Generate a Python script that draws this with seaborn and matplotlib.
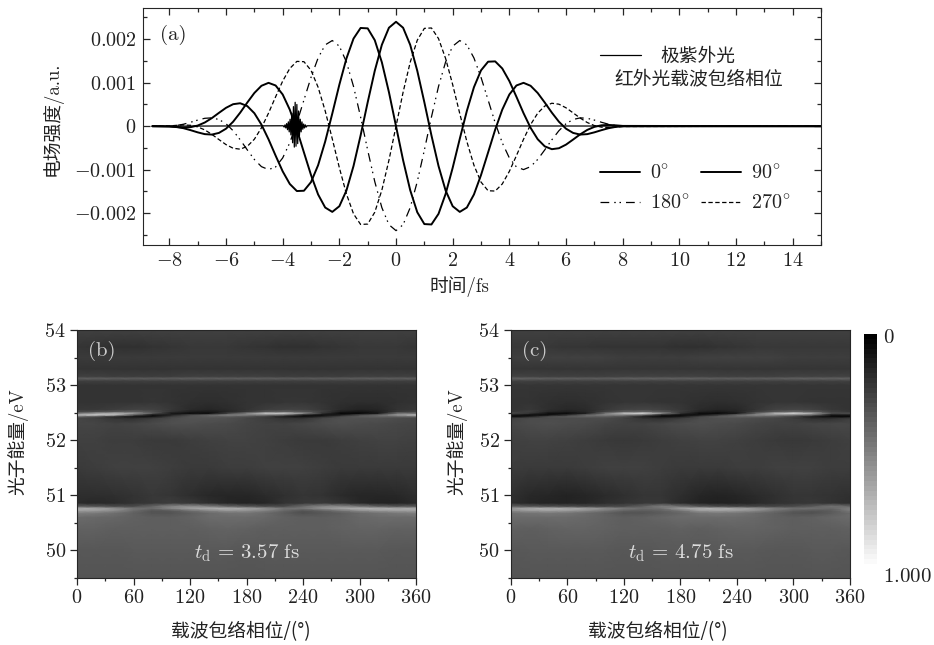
import numpy as np
import matplotlib
matplotlib.use('Agg')
import matplotlib.pyplot as plt
from matplotlib.lines import Line2D
from matplotlib.ticker import MultipleLocator
import seaborn as sns
import warnings

warnings.filterwarnings('ignore')

# panel (a) waveforms, values in 1e-3 a.u.
time_fs = [-8.6] + list(np.arange(-8, 8.25, 0.25)) + [15]

ir_0 = [0, -.003, -.016, -.046, -.091, -.141, -.182, -.192, -.154, -.057, .103, .312, .544, .764, .929, .997, .936, .729, .381, -.079,
        -.603, -1.123, -1.569, -1.869, -1.969, -1.839, -1.477, -.914, -.211, .550, 1.274, 1.871, 2.263, 2.40,
        2.263, 1.871, 1.274, .550, -.211, -.914, -1.477, -1.839, -1.969, -1.869, -1.569, -1.123, -.603,
        -.079, .381, .729, .936, .997, .929, .764, .544, .312, .103, -.057, -.154, -.192, -.182, -.141, -.091, -.046, -.016, -.003, 0]
ir_90 = [0, -.007, -.020, -.029, -.021, .015, .085, .187, .307, .423, .506, .528, .463, .299, .037, -.301, -.676, -1.038, -1.327, -1.490,
         -1.483, -1.284, -.896, -.352, .290, .955, 1.557, 2.014, 2.258, 2.249, 1.977, 1.469, .782, 0,
         -.782, -1.469, -1.977, -2.249, -2.258, -2.014, -1.557, -.955, -.290, .352, .896, 1.284, 1.483,
         1.490, 1.327, 1.038, .676, .301, -.037, -.299, -.463, -.528, -.506, -.423, -.307, -.187, -.085, -.015, .021, .029, .020, .007, 0]
ir_180 = [0, .003, .016, .046, .091, .141, .182, .192, .154, .057, -.103, -.312, -.544, -.764, -.929, -.997, -.936, -.729, -.381, .079,
          .603, 1.123, 1.569, 1.869, 1.969, 1.839, 1.477, .914, .211, -.550, -1.274, -1.871, -2.263, -2.40,
          -2.263, -1.871, -1.274, -.550, .211, .914, 1.477, 1.839, 1.969, 1.869, 1.569, 1.123, .603,
          .079, -.381, -.729, -.936, -.997, -.929, -.764, -.544, -.312, -.103, .057, .154, .192, .182, .141, .091, .046, .016, .003, 0]
ir_270 = [0, .007, .020, .029, .021, -.015, -.085, -.187, -.307, -.423, -.506, -.528, -.463, -.299, -.037, .301, .676, 1.038, 1.327, 1.490,
          1.483, 1.284, .896, .352, -.290, -.955, -1.557, -2.014, -2.258, -2.249, -1.977, -1.469, -.782, 0,
          .782, 1.469, 1.977, 2.249, 2.258, 2.014, 1.557, .955, .290, -.352, -.896, -1.284, -1.483,
          -1.490, -1.327, -1.038, -.676, -.301, .037, .299, .463, .528, .506, .423, .307, .187, .085, .015, -.021, -.029, -.020, -.007, 0]

xuv_time = [-8.6] + list(np.arange(-3.98, -3.13, 0.03)) + [15]
xuv_field = [0, .01, -.02, .03, -.04, .06, -.08, .10, -.13, .16, -.20, .30, -.38, .45, -.48, .55, -.46, .50, -.40, .35, -.22,
             .16, -.13, .10, -.07, .05, -.04, .03, -.02, .01, 0]

time_ticks = [-8, -6, -4, -2, 0, 2, 4, 6, 8, 10, 12, 14]
time_labels = ['$-8$', '$-6$', '$-4$', '$-2$', '$0$', '$2$', '$4$', '$6$', '$8$', '$10$', '$12$', '$14$']
field_ticks = [-0.002, -0.001, 0, 0.001, 0.002]
field_labels = ['$-0.002$', '$-0.001$', '$0$', '$0.001$', '$0.002$']

# panels (b) and (c): brightness on the 0..1 gray scale
phase_deg = [0, 20, 40, 60, 80, 100, 120, 140, 160, 180, 200, 220, 240, 260, 280, 300, 320, 340, 360]
energy_ev = [49.5, 50.0, 50.4, 50.6, 50.68, 50.72, 50.76, 50.80, 50.86, 51.0, 51.5, 52.0, 52.3, 52.40,
             52.43, 52.46, 52.49, 52.52, 52.56, 52.7, 53.0, 53.08, 53.12, 53.16, 53.3, 53.5, 53.7, 54.0]

spectrum_b = [
    [.33, .33, .33, .33, .33, .33, .33, .33, .33, .33, .33, .33, .33, .33, .33, .33, .33, .33, .33],
    [.34, .34, .34, .35, .35, .35, .35, .35, .35, .34, .35, .35, .35, .35, .35, .35, .35, .34, .34],
    [.38, .38, .37, .37, .37, .37, .37, .38, .39, .38, .37, .37, .37, .37, .38, .39, .39, .38, .38],
    [.42, .41, .40, .38, .37, .37, .39, .42, .42, .42, .41, .38, .37, .37, .38, .41, .42, .42, .42],
    [.50, .48, .44, .38, .33, .33, .37, .42, .45, .46, .42, .36, .31, .34, .37, .42, .45, .48, .50],
    [.62, .60, .54, .42, .33, .35, .44, .52, .58, .56, .50, .40, .33, .38, .46, .55, .60, .62, .62],
    [.68, .66, .58, .46, .42, .52, .62, .68, .70, .66, .58, .46, .46, .56, .64, .70, .70, .68, .68],
    [.36, .34, .30, .30, .40, .52, .56, .50, .40, .34, .30, .30, .42, .52, .54, .46, .38, .34, .36],
    [.17, .16, .17, .20, .22, .24, .22, .18, .15, .14, .15, .20, .22, .23, .20, .16, .14, .14, .17],
    [.18, .18, .19, .20, .22, .21, .18, .16, .15, .15, .17, .19, .21, .20, .17, .15, .15, .16, .18],
    [.23, .24, .25, .25, .25, .24, .23, .23, .24, .24, .25, .25, .25, .24, .23, .23, .23, .23, .23],
    [.25, .25, .24, .24, .23, .23, .24, .25, .26, .26, .25, .24, .23, .23, .24, .25, .26, .26, .25],
    [.27, .27, .26, .27, .29, .31, .31, .30, .29, .27, .26, .26, .28, .30, .31, .30, .29, .28, .27],
    [.28, .25, .20, .18, .24, .30, .33, .33, .32, .28, .24, .20, .20, .28, .32, .32, .32, .30, .28],
    [.40, .30, .15, .06, .08, .25, .33, .36, .36, .32, .24, .10, .06, .15, .30, .36, .38, .38, .40],
    [.75, .80, .72, .35, .06, .14, .30, .40, .52, .50, .48, .40, .10, .05, .12, .30, .42, .60, .75],
    [.45, .62, .70, .60, .35, .10, .05, .05, .25, .50, .78, .78, .55, .20, .03, .03, .10, .45, .45],
    [.28, .30, .34, .38, .32, .20, .12, .10, .15, .22, .34, .38, .34, .26, .12, .08, .12, .22, .28],
    [.22, .22, .24, .26, .26, .22, .17, .15, .17, .20, .24, .26, .26, .22, .17, .14, .15, .20, .22],
    [.20, .20, .20, .20, .21, .20, .19, .18, .19, .20, .20, .21, .21, .20, .19, .18, .18, .19, .20],
    [.20, .20, .20, .20, .20, .20, .20, .20, .20, .20, .20, .20, .20, .20, .20, .20, .20, .20, .20],
    [.25, .25, .25, .25, .25, .25, .25, .25, .25, .25, .25, .25, .25, .25, .25, .25, .25, .25, .25],
    [.37, .37, .36, .36, .36, .36, .37, .37, .37, .37, .37, .36, .36, .36, .36, .37, .37, .37, .37],
    [.25, .25, .24, .24, .24, .24, .25, .25, .25, .25, .25, .24, .24, .24, .24, .25, .25, .25, .25],
    [.20, .20, .20, .20, .20, .20, .20, .20, .20, .20, .20, .20, .20, .20, .20, .20, .20, .20, .20],
    [.23, .23, .23, .23, .23, .23, .23, .23, .23, .23, .23, .23, .23, .23, .23, .23, .23, .23, .23],
    [.21, .20, .19, .19, .20, .21, .22, .22, .22, .21, .20, .19, .19, .20, .21, .22, .22, .22, .21],
    [.25, .25, .25, .25, .25, .25, .25, .25, .25, .25, .25, .25, .25, .25, .25, .25, .25, .25, .25],
]

spectrum_c = [
    [.33, .33, .33, .33, .33, .33, .33, .33, .33, .33, .33, .33, .33, .33, .33, .33, .33, .33, .33],
    [.34, .35, .35, .35, .35, .35, .34, .34, .35, .35, .35, .35, .35, .35, .34, .34, .35, .35, .34],
    [.38, .37, .38, .39, .39, .38, .37, .37, .37, .38, .37, .38, .39, .39, .38, .37, .37, .37, .38],
    [.42, .42, .42, .42, .41, .39, .37, .38, .40, .42, .42, .42, .42, .41, .38, .37, .38, .40, .42],
    [.44, .46, .48, .46, .42, .38, .33, .33, .36, .40, .46, .48, .46, .42, .38, .33, .32, .36, .42],
    [.55, .60, .62, .60, .54, .46, .38, .36, .38, .45, .60, .62, .60, .54, .44, .37, .34, .36, .48],
    [.60, .68, .70, .68, .64, .56, .48, .42, .44, .62, .70, .70, .66, .60, .50, .44, .44, .40, .50],
    [.38, .34, .32, .30, .28, .28, .30, .38, .50, .44, .34, .30, .28, .28, .28, .30, .36, .46, .40],
    [.18, .15, .14, .14, .15, .18, .20, .22, .22, .17, .14, .13, .14, .16, .19, .21, .22, .20, .18],
    [.19, .16, .15, .14, .15, .17, .19, .21, .21, .18, .15, .14, .15, .17, .19, .21, .21, .20, .19],
    [.24, .23, .23, .23, .24, .25, .25, .25, .24, .23, .23, .23, .24, .24, .25, .25, .25, .24, .24],
    [.25, .26, .26, .25, .24, .23, .22, .23, .24, .25, .26, .26, .25, .24, .23, .22, .23, .24, .25],
    [.28, .30, .31, .30, .29, .27, .26, .26, .28, .30, .31, .30, .29, .27, .26, .26, .27, .28, .28],
    [.26, .30, .30, .30, .30, .30, .26, .20, .18, .24, .30, .32, .32, .30, .28, .24, .18, .18, .24],
    [.05, .14, .32, .36, .38, .36, .30, .12, .05, .10, .28, .36, .38, .38, .34, .25, .10, .05, .04],
    [.10, .04, .06, .20, .42, .52, .50, .40, .10, .04, .08, .22, .42, .55, .55, .48, .40, .08, .10],
    [.30, .20, .06, .05, .12, .45, .75, .85, .55, .20, .05, .04, .10, .40, .70, .85, .65, .30, .30],
    [.22, .25, .16, .12, .16, .26, .36, .40, .34, .24, .14, .10, .14, .24, .34, .40, .36, .26, .22],
    [.20, .22, .18, .16, .17, .22, .26, .27, .26, .22, .17, .15, .16, .21, .26, .27, .26, .22, .20],
    [.20, .20, .19, .18, .19, .20, .21, .21, .20, .20, .19, .18, .19, .20, .21, .21, .20, .20, .20],
    [.21, .21, .21, .21, .21, .21, .21, .21, .21, .21, .21, .21, .21, .21, .21, .21, .21, .21, .21],
    [.26, .26, .26, .26, .26, .26, .26, .26, .26, .26, .26, .26, .26, .26, .26, .26, .26, .26, .26],
    [.38, .38, .37, .37, .37, .37, .38, .38, .38, .38, .38, .37, .37, .37, .37, .38, .38, .38, .38],
    [.26, .26, .25, .25, .25, .25, .26, .26, .26, .26, .26, .25, .25, .25, .25, .26, .26, .26, .26],
    [.21, .21, .21, .21, .21, .21, .21, .21, .21, .21, .21, .21, .21, .21, .21, .21, .21, .21, .21],
    [.24, .25, .25, .25, .25, .25, .24, .24, .24, .24, .25, .25, .25, .25, .25, .24, .24, .24, .24],
    [.22, .22, .22, .21, .21, .20, .20, .20, .20, .19, .19, .20, .21, .22, .22, .22, .22, .22, .22],
    [.25, .25, .25, .25, .25, .25, .25, .25, .25, .25, .25, .25, .25, .25, .25, .25, .25, .25, .25],
]

phase_ticks = [0, 60, 120, 180, 240, 300, 360]
energy_ticks = [50, 51, 52, 53, 54]

W, H = 934, 645
sns.set_style('ticks')
plt.rcParams['font.family'] = ['cmr10', 'Noto Sans CJK SC']
plt.rcParams['mathtext.fontset'] = 'cm'
plt.rcParams['axes.unicode_minus'] = False
plt.rcParams['font.size'] = 14
TXT = '#222222'
CJK = ['Noto Sans CJK SC']


def px_axes(fig, left, top, right, bottom):
    return fig.add_axes([left / W, 1 - bottom / H, (right - left) / W, (bottom - top) / H])


fig = plt.figure(figsize=(W / 100, H / 100), dpi=100)

# panel a
ax = px_axes(fig, 143.3, 8.3, 821, 245)
sns.lineplot(x=xuv_time, y=np.array(xuv_field) * 1e-3, ax=ax, color='k', lw=0.9, sort=False)
sns.lineplot(x=time_fs, y=np.array(ir_0) * 1e-3, ax=ax, color='k', lw=1.4)
sns.lineplot(x=time_fs, y=np.array(ir_90) * 1e-3, ax=ax, color='k', lw=1.4)
dash_180 = (0, (7, 4, 1.2, 3, 1.2, 4))
dash_270 = (0, (3.5, 2))
sns.lineplot(x=time_fs, y=np.array(ir_180) * 1e-3, ax=ax, color='k', lw=0.9, linestyle=dash_180)
sns.lineplot(x=time_fs, y=np.array(ir_270) * 1e-3, ax=ax, color='k', lw=0.9, linestyle=dash_270)
ax.set_xlim(-8.92, 15)
ax.set_ylim(-0.00273, 0.00271)
ax.set_xticks(time_ticks)
ax.set_xticklabels(time_labels, color=TXT)
ax.set_yticks(field_ticks)
ax.set_yticklabels(field_labels, color=TXT)
ax.xaxis.set_minor_locator(MultipleLocator(1))
ax.yaxis.set_minor_locator(MultipleLocator(0.0005))
ax.tick_params(which='both', direction='in', top=True, right=True, width=0.9, labelsize=14.5, pad=5)
ax.tick_params(which='major', length=5)
ax.tick_params(which='minor', length=3)
ax.set_xlabel('时间/fs', fontsize=13.5, color=TXT, va='center')
ax.set_ylabel('电场强度/a.u.', fontsize=13.5, color=TXT, va='center')
ax.xaxis.set_label_coords(0.467, -0.177)
ax.yaxis.set_label_coords(-0.135, 0.532)
ax.text(0.025, 0.887, '(a)', transform=ax.transAxes, fontsize=15, color=TXT, va='center')

# legends, built from the same line styles
xuv_handle = [Line2D([], [], color='k', lw=0.9)]
leg1 = ax.legend(xuv_handle, ['极紫外光'], loc='center left', bbox_to_anchor=(0.674, 0.795),
                 frameon=False, fontsize=13.5, handlelength=2.2, handletextpad=1.0, labelcolor=TXT,
                 borderpad=0, borderaxespad=0)
ax.add_artist(leg1)
ax.text(0.695, 0.70, '红外光载波包络相位', transform=ax.transAxes, fontsize=13.5, color=TXT, ha='left', va='center')
phase_handles = [Line2D([], [], color='k', lw=1.4), Line2D([], [], color='k', lw=0.9, linestyle=dash_180),
                 Line2D([], [], color='k', lw=1.4), Line2D([], [], color='k', lw=0.9, linestyle=dash_270)]
ax.legend(phase_handles, [r'$0^{\circ}$', r'$180^{\circ}$', r'$90^{\circ}$', r'$270^{\circ}$'], ncol=2, loc='center left',
          bbox_to_anchor=(0.674, 0.24), frameon=False, fontsize=14.5, handlelength=2.0, handletextpad=0.5,
          columnspacing=0.55, labelspacing=0.55, labelcolor=TXT, borderpad=0, borderaxespad=0)


def spectrum_panel(left, right, matrix, tag, delay_text, xlabel_x, ylabel_x):
    ax2 = px_axes(fig, left, 330, right, 577.7)
    ax2.pcolormesh(phase_deg, energy_ev, np.array(matrix), cmap='gray', vmin=0, vmax=1, shading='gouraud')
    ax2.set_xlim(0, 360)
    ax2.set_ylim(49.5, 54)
    ax2.set_xticks(phase_ticks)
    ax2.set_xticklabels([f'${p}$' for p in phase_ticks], color=TXT)
    ax2.set_yticks(energy_ticks)
    ax2.set_yticklabels([f'${e}$' for e in energy_ticks], color=TXT)
    ax2.xaxis.set_minor_locator(MultipleLocator(30))
    ax2.yaxis.set_minor_locator(MultipleLocator(0.5))
    ax2.tick_params(which='both', direction='out', width=0.9, labelsize=14.5, pad=3)
    ax2.tick_params(which='major', length=5)
    ax2.tick_params(which='minor', length=2.5)
    ax2.set_xlabel('载波包络相位/(°)', fontsize=13.5, color=TXT, family=CJK, va='center')
    ax2.set_ylabel('光子能量/eV', fontsize=13.5, color=TXT, va='center')
    ax2.xaxis.set_label_coords(xlabel_x, -0.219)
    ax2.yaxis.set_label_coords(ylabel_x, 0.548)
    ax2.text(0.032, 0.915, tag, transform=ax2.transAxes, fontsize=15, color='#cccccc', va='center')
    ax2.text(0.5, 0.10, delay_text, transform=ax2.transAxes, fontsize=15, color='#dddddd', ha='center', va='center')
    return ax2


spectrum_panel(77, 416, spectrum_b, '(b)', r'$t_{\mathrm{d}}\,=\,3.57\ \mathrm{fs}$', 0.484, -0.174)
spectrum_panel(510.7, 850, spectrum_c, '(c)', r'$t_{\mathrm{d}}\,=\,4.75\ \mathrm{fs}$', 0.435, -0.158)

# gray scale strip
cax = px_axes(fig, 864, 334, 877, 569)
sns.heatmap(np.linspace(0, 1, 48).reshape(-1, 1), ax=cax, cmap='gray', vmin=0, vmax=1, cbar=False,
            xticklabels=False, yticklabels=False)
cax.text(1.45, 0.983, '$0$', transform=cax.transAxes, fontsize=15, color=TXT, va='center')
cax.text(1.45, -0.034, '$1.000$', transform=cax.transAxes, fontsize=15, color=TXT, va='center')

plt.savefig('out.png', dpi=100)
